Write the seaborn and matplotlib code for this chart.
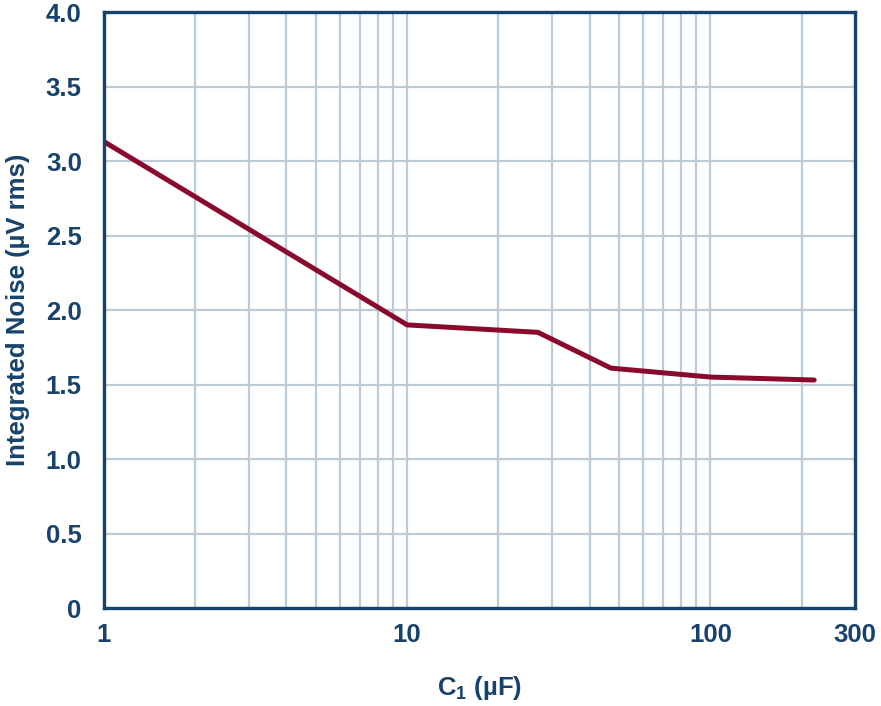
import seaborn as sns
import pandas as pd
import matplotlib.pyplot as plt
from matplotlib.ticker import FixedLocator, NullFormatter

# Data
capacitance_uF = [1, 10, 27, 47, 100, 220]
noise_uVrms = [3.13, 1.90, 1.85, 1.61, 1.55, 1.53]

x_ticks = [1, 10, 100, 300]
x_tick_labels = ["1", "10", "100", "300"]
y_ticks = [0, 0.5, 1.0, 1.5, 2.0, 2.5, 3.0, 3.5, 4.0]
y_tick_labels = ["0", "0.5", "1.0", "1.5", "2.0", "2.5", "3.0", "3.5", "4.0"]

navy = "#17426b"
line_red = "#8a0a2e"
grid_col = "#bccbd8"

sns.set_style("white")
plt.rcParams['font.family'] = ['Liberation Sans', 'DejaVu Sans']
plt.rcParams['font.weight'] = 'bold'
plt.rcParams['mathtext.default'] = 'regular'

df = pd.DataFrame({"C1": capacitance_uF, "Noise": noise_uVrms})

fig = plt.figure(figsize=(8.81, 7.06), dpi=100)
ax = fig.add_axes([0.118, 0.1388, 0.8525, 0.8442])

sns.lineplot(data=df, x="C1", y="Noise", ax=ax, color=line_red, linewidth=3.6)

ax.set_xscale("log")
ax.set_xlim(1, 300)
ax.set_ylim(0, 4)

ax.xaxis.set_major_locator(FixedLocator(x_ticks))
ax.set_xticklabels(x_tick_labels)
minor = [m * d for d in (1, 10, 100) for m in range(2, 10) if m * d < 300]
ax.xaxis.set_minor_locator(FixedLocator(minor))
ax.xaxis.set_minor_formatter(NullFormatter())
ax.set_yticks(y_ticks)
ax.set_yticklabels(y_tick_labels)

ax.grid(True, which="both", axis="x", color=grid_col, linewidth=1.6)
ax.grid(True, which="major", axis="y", color=grid_col, linewidth=1.6)
ax.set_axisbelow(True)

for s in ax.spines.values():
    s.set_color(navy)
    s.set_linewidth(2.4)

ax.tick_params(which="both", length=0, labelsize=18.5, labelcolor=navy)
ax.tick_params(axis="y", pad=16)
ax.tick_params(axis="x", pad=11)
for lab in ax.get_xticklabels() + ax.get_yticklabels():
    lab.set_fontweight("bold")

ax.set_xlabel("C$_1$ (µF)", fontsize=18.5, color=navy, fontweight="bold", labelpad=19)
ax.set_ylabel("Integrated Noise (µV rms)", fontsize=18.5, color=navy, fontweight="bold", labelpad=11)

plt.savefig("out.png", dpi=100)
plt.close()
